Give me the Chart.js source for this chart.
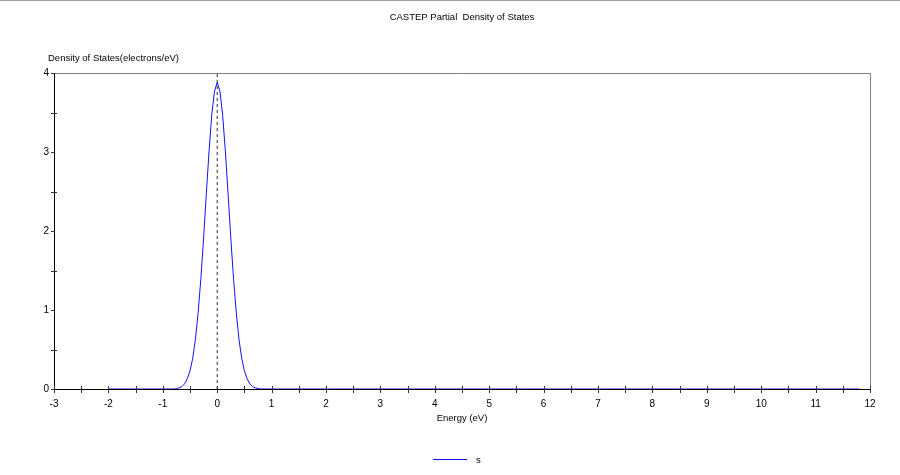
<!DOCTYPE html>
<html>
<head>
<meta charset="utf-8">
<script src="https://cdn.jsdelivr.net/npm/chart.js@4"></script>
<style>
  html, body { margin: 0; padding: 0; background: #ffffff; }
  #wrap { width: 900px; height: 475px; position: relative; }
</style>
</head>
<body>
<div id="wrap"><canvas id="dosChart" width="900" height="475"></canvas></div>
<script>
// values (s-projected DOS, one peak at the Fermi level)
const energy = [-2, -0.8, -0.75, -0.7, -0.65, -0.6, -0.55, -0.5, -0.45, -0.4, -0.35, -0.3, -0.25, -0.2, -0.15, -0.1, -0.05, 0,
  0.05, 0.1, 0.15, 0.2, 0.25, 0.3, 0.35, 0.4, 0.45, 0.5, 0.55, 0.6, 0.65, 0.7, 0.75, 0.8, 11.8];
const dosS = [0, 0, 0.005, 0.015, 0.03, 0.065, 0.13, 0.23, 0.39, 0.63, 0.97, 1.40, 1.91, 2.47, 3.01, 3.47, 3.77, 3.88,
  3.77, 3.47, 3.01, 2.47, 1.91, 1.40, 0.97, 0.63, 0.39, 0.23, 0.13, 0.065, 0.03, 0.015, 0.005, 0, 0];
const fermiX = [0, 0];
const fermiY = [0, 4];

const xMin = -3, xMax = 12;
const yMin = 0, yMax = 4;
const FAMILY = '"Liberation Sans", Arial, sans-serif';
const FONT = '9.5px ' + FAMILY;
const LINE_BLUE = '#1010ff';

const pairs = (xs, ys) => xs.map((x, i) => ({ x: x, y: ys[i] }));

const decorPlugin = {
  id: 'decor',
  afterDraw(chart) {
    const ctx = chart.ctx;
    const a = chart.chartArea;
    const sx = chart.scales.x, sy = chart.scales.y;
    ctx.save();

    // outer frame line at the top of the picture
    ctx.strokeStyle = '#a0a0a0';
    ctx.lineWidth = 1;
    ctx.beginPath();
    ctx.moveTo(0, 0.5); ctx.lineTo(900, 0.5);
    ctx.stroke();

    // top and right borders of plot box
    ctx.strokeStyle = '#808080';
    ctx.beginPath();
    ctx.moveTo(a.left, a.top + 0.5); ctx.lineTo(a.right + 0.5, a.top + 0.5);
    ctx.lineTo(a.right + 0.5, a.bottom);
    ctx.stroke();

    // axes
    ctx.strokeStyle = '#000000';
    ctx.beginPath();
    ctx.moveTo(a.left + 0.5, a.top); ctx.lineTo(a.left + 0.5, a.bottom + 0.5);
    ctx.lineTo(a.right, a.bottom + 0.5);
    ctx.stroke();

    // ticks, major and half-step minor
    ctx.strokeStyle = '#333333';
    ctx.beginPath();
    for (let v = xMin; v <= xMax; v += 0.5) {
      const px = Math.round(sx.getPixelForValue(v)) + 0.5;
      ctx.moveTo(px, a.bottom - 3); ctx.lineTo(px, a.bottom + 4);
    }
    for (let v = yMin; v <= yMax; v += 0.5) {
      const py = Math.round(sy.getPixelForValue(v)) + 0.5;
      const major = Number.isInteger(v);
      ctx.moveTo(a.left - 3, py); ctx.lineTo(a.left + (major ? 1 : 3), py);
    }
    ctx.stroke();

    // texts
    ctx.fillStyle = '#000000';
    ctx.font = FONT;
    ctx.textBaseline = 'middle';
    ctx.textAlign = 'center';
    ctx.fillText('CASTEP Partial  Density of States', 462, 17);
    ctx.fillText('Energy (eV)', 462, 418);
    ctx.textAlign = 'left';
    ctx.fillText('Density of States(electrons/eV)', 48, 58);

    // legend
    ctx.strokeStyle = LINE_BLUE;
    ctx.beginPath();
    ctx.moveTo(433, 459.5); ctx.lineTo(467, 459.5);
    ctx.stroke();
    ctx.fillStyle = '#000000';
    ctx.fillText(chart.data.datasets[0].label, 476, 460);

    ctx.restore();
  }
};

const ctx = document.getElementById('dosChart').getContext('2d');
new Chart(ctx, {
  type: 'line',
  data: {
    datasets: [
      {
        label: 's',
        data: pairs(energy, dosS),
        borderColor: LINE_BLUE,
        borderWidth: 1,
        pointRadius: 0,
        tension: 0,
        fill: false
      },
      {
        label: 'Fermi',
        data: pairs(fermiX, fermiY),
        borderColor: '#303030',
        borderWidth: 1,
        borderDash: [3, 3],
        pointRadius: 0,
        fill: false
      }
    ]
  },
  options: {
    responsive: false,
    animation: false,
    layout: { padding: { top: 73, right: 30, left: 0, bottom: 0 } },
    plugins: {
      legend: { display: false },
      title: { display: false },
      tooltip: { enabled: false }
    },
    scales: {
      x: {
        type: 'linear',
        min: xMin,
        max: xMax,
        grid: { display: false, drawTicks: false },
        border: { display: false },
        ticks: {
          stepSize: 1,
          padding: 9,
          color: '#000000',
          font: { family: FAMILY, size: 10 }
        },
        afterFit(scale) { scale.height = 86; }
      },
      y: {
        type: 'linear',
        min: yMin,
        max: yMax,
        grid: { display: false, drawTicks: false },
        border: { display: false },
        ticks: {
          stepSize: 1,
          padding: 5,
          color: '#000000',
          font: { family: FAMILY, size: 10 }
        },
        afterFit(scale) { scale.width = 54; }
      }
    }
  },
  plugins: [decorPlugin]
});
</script>
</body>
</html>
